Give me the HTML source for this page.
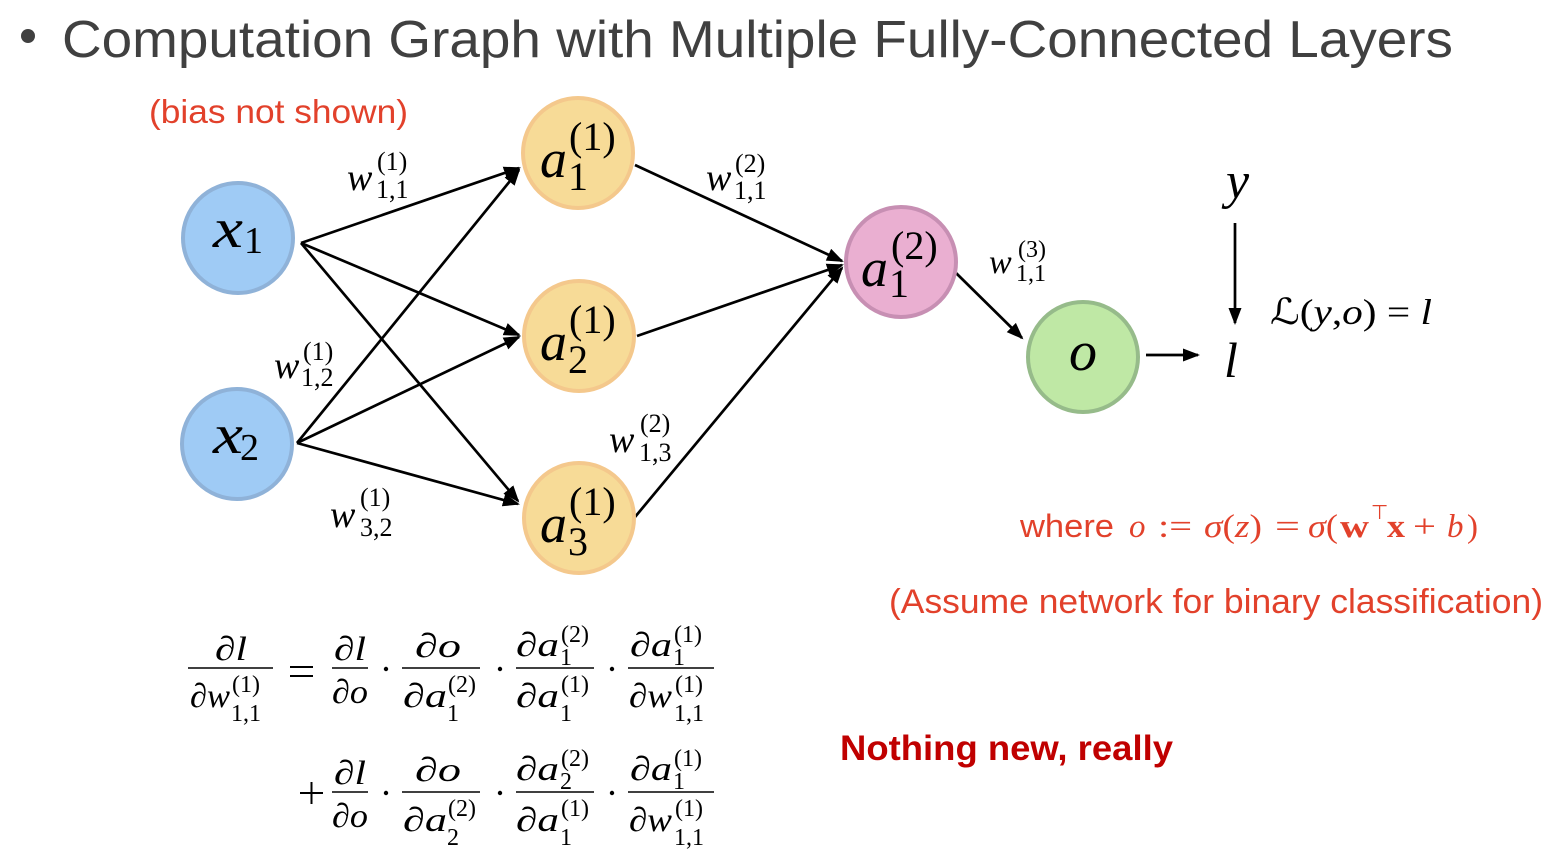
<!DOCTYPE html>
<html>
<head>
<meta charset="utf-8">
<style>
  html,body{margin:0;padding:0;background:#fff;}
  svg{display:block;}
  .m{font-family:"Liberation Serif","DejaVu Serif",serif;font-style:italic;fill:#000;}
  .r{font-family:"Liberation Serif","DejaVu Serif",serif;font-style:normal;fill:#000;}
</style>
</head>
<body>
<svg width="1559" height="861" viewBox="0 0 1559 861" xmlns="http://www.w3.org/2000/svg">
  <defs>
    <marker id="ah" markerUnits="userSpaceOnUse" markerWidth="20" markerHeight="16" refX="15" refY="6.5" orient="auto">
      <path d="M0,0 L17,6.5 L0,13 z" fill="#000"/>
    </marker>
  </defs>
  <rect width="1559" height="861" fill="#fff"/>

  <!-- Title -->
  <circle cx="28" cy="36" r="7" fill="#404040"/>
  <text x="62" y="57" font-family="Liberation Sans, Arial, sans-serif" font-size="52" fill="#404040" textLength="1391" lengthAdjust="spacingAndGlyphs">Computation Graph with Multiple Fully-Connected Layers</text>

  <!-- bias not shown -->
  <text x="149" y="123" font-family="Liberation Sans, Arial, sans-serif" font-size="33" fill="#e2412b" textLength="259" lengthAdjust="spacingAndGlyphs">(bias not shown)</text>

  <!-- Edges -->
  <g stroke="#000" stroke-width="2.7" fill="none" marker-end="url(#ah)">
    <line x1="301" y1="243" x2="519" y2="168"/>
    <line x1="301" y1="243" x2="519" y2="335"/>
    <line x1="301" y1="243" x2="518" y2="501"/>
    <line x1="297" y1="443" x2="519" y2="170"/>
    <line x1="297" y1="443" x2="519" y2="337"/>
    <line x1="297" y1="443" x2="518" y2="504"/>
    <line x1="635" y1="165" x2="842" y2="261"/>
    <line x1="637" y1="336" x2="842" y2="265"/>
    <line x1="635" y1="517" x2="842" y2="268"/>
    <line x1="955" y1="272" x2="1022" y2="338"/>
    <line x1="1146" y1="355" x2="1198" y2="355"/>
    <line x1="1235" y1="223" x2="1235" y2="323"/>
  </g>

  <!-- Nodes -->
  <circle cx="238" cy="238" r="55" fill="#9fcbf5" stroke="#8fb2d8" stroke-width="4"/>
  <circle cx="237" cy="444" r="55" fill="#9fcbf5" stroke="#8fb2d8" stroke-width="4"/>
  <circle cx="578" cy="153" r="55" fill="#f7db97" stroke="#f4c88c" stroke-width="4"/>
  <circle cx="579" cy="336" r="55" fill="#f7db97" stroke="#f4c88c" stroke-width="4"/>
  <circle cx="579" cy="518" r="55" fill="#f7db97" stroke="#f4c88c" stroke-width="4"/>
  <circle cx="901" cy="262" r="55" fill="#eaafd1" stroke="#c78fb3" stroke-width="4"/>
  <circle cx="1083" cy="357" r="55" fill="#bfe8a5" stroke="#96bb8a" stroke-width="4"/>

  <!-- Node labels -->
  <text class="m" x="213" y="247" font-size="56" textLength="30" lengthAdjust="spacingAndGlyphs">x</text>
  <text class="r" x="244" y="253" font-size="38">1</text>
  <text class="m" x="213" y="453" font-size="56" textLength="30" lengthAdjust="spacingAndGlyphs">x</text>
  <text class="r" x="240" y="460" font-size="38">2</text>

  <text class="m" x="540" y="177" font-size="54">a</text>
  <text class="r" x="569" y="150" font-size="40">(1)</text>
  <text class="r" x="568" y="190" font-size="40">1</text>

  <text class="m" x="540" y="360" font-size="54">a</text>
  <text class="r" x="569" y="333" font-size="40">(1)</text>
  <text class="r" x="568" y="373" font-size="40">2</text>

  <text class="m" x="540" y="542" font-size="54">a</text>
  <text class="r" x="569" y="515" font-size="40">(1)</text>
  <text class="r" x="568" y="555" font-size="40">3</text>

  <text class="m" x="861" y="286" font-size="54">a</text>
  <text class="r" x="891" y="259" font-size="40">(2)</text>
  <text class="r" x="889" y="297" font-size="40">1</text>

  <text class="m" x="1083" y="370" font-size="56" text-anchor="middle">o</text>

  <!-- Edge labels -->
  <text class="m" x="347" y="190" font-size="38">w</text>
  <text class="r" x="377" y="170" font-size="26">(1)</text>
  <text class="r" x="376" y="198" font-size="26">1,1</text>

  <text class="m" x="706" y="190" font-size="38">w</text>
  <text class="r" x="735" y="172" font-size="26">(2)</text>
  <text class="r" x="734" y="199" font-size="26">1,1</text>

  <text class="m" x="274" y="378" font-size="38">w</text>
  <text class="r" x="303" y="360" font-size="26">(1)</text>
  <text class="r" x="301" y="386" font-size="26">1,2</text>

  <text class="m" x="330" y="527" font-size="38">w</text>
  <text class="r" x="360" y="506" font-size="26">(1)</text>
  <text class="r" x="360" y="536" font-size="26">3,2</text>

  <text class="m" x="609" y="452" font-size="38">w</text>
  <text class="r" x="640" y="432" font-size="26">(2)</text>
  <text class="r" x="639" y="461" font-size="26">1,3</text>

  <text class="m" x="989" y="273" font-size="34">w</text>
  <text class="r" x="1018" y="257" font-size="24">(3)</text>
  <text class="r" x="1016" y="281" font-size="24">1,1</text>

  <!-- y, l, loss -->
  <text class="m" x="1226" y="198" font-size="52">y</text>
  <text class="m" x="1224" y="377" font-size="50">l</text>
  <text x="1270" y="324" font-size="36" font-family="Liberation Serif, DejaVu Serif, serif" textLength="162" lengthAdjust="spacingAndGlyphs"><tspan font-family="DejaVu Serif, DejaVu Sans, serif" font-style="italic">ℒ</tspan><tspan>(</tspan><tspan font-style="italic">y</tspan><tspan>,</tspan><tspan font-style="italic">o</tspan><tspan>) = </tspan><tspan font-style="italic">l</tspan></text>

  <!-- where line -->
  <g fill="#e2412b">
    <text x="1020" y="537" font-family="Liberation Sans, Arial, sans-serif" font-size="32" textLength="94" lengthAdjust="spacingAndGlyphs">where</text>
    <text x="1129" y="537" font-family="Liberation Serif, serif" font-style="italic" font-size="33">o</text>
    <text x="1158" y="537" font-family="Liberation Serif, serif" font-size="33" textLength="34" lengthAdjust="spacingAndGlyphs">:=</text>
    <text x="1204" y="537" font-family="Liberation Serif, serif" font-size="33" textLength="58" lengthAdjust="spacingAndGlyphs"><tspan font-style="italic">σ</tspan>(<tspan font-style="italic">z</tspan>)</text>
    <text x="1275" y="537" font-family="Liberation Serif, serif" font-size="33" textLength="25" lengthAdjust="spacingAndGlyphs">=</text>
    <text x="1308" y="537" font-family="Liberation Serif, serif" font-size="33" textLength="30" lengthAdjust="spacingAndGlyphs"><tspan font-style="italic">σ</tspan>(</text>
    <text x="1340" y="537" font-family="Liberation Serif, serif" font-weight="bold" font-size="33" textLength="29" lengthAdjust="spacingAndGlyphs">w</text>
    <text x="1371" y="519" font-family="DejaVu Sans, sans-serif" font-size="20">⊤</text>
    <text x="1387" y="537" font-family="Liberation Serif, serif" font-weight="bold" font-size="33" textLength="18" lengthAdjust="spacingAndGlyphs">x</text>
    <text x="1413" y="537" font-family="Liberation Serif, serif" font-size="33" textLength="23" lengthAdjust="spacingAndGlyphs">+</text>
    <text x="1447" y="537" font-family="Liberation Serif, serif" font-style="italic" font-size="33">b</text>
    <text x="1467" y="537" font-family="Liberation Serif, serif" font-size="33">)</text>
  </g>

  <text x="889" y="613" font-family="Liberation Sans, Arial, sans-serif" font-size="34" fill="#e2412b" textLength="654" lengthAdjust="spacingAndGlyphs">(Assume network for binary classification)</text>

  <text x="840" y="760" font-family="Liberation Sans, Arial, sans-serif" font-weight="bold" font-size="35" fill="#c00000" textLength="333" lengthAdjust="spacingAndGlyphs">Nothing new, really</text>

  <!-- Equation fraction bars -->
  <g stroke="#000" stroke-width="1.6">
    <line x1="188" y1="668" x2="273" y2="668"/>
    <line x1="332" y1="668" x2="368" y2="668"/>
    <line x1="402" y1="668" x2="480" y2="668"/>
    <line x1="516" y1="668" x2="594" y2="668"/>
    <line x1="628" y1="668" x2="714" y2="668"/>
    <line x1="332" y1="792" x2="368" y2="792"/>
    <line x1="402" y1="792" x2="480" y2="792"/>
    <line x1="516" y1="792" x2="594" y2="792"/>
    <line x1="628" y1="792" x2="714" y2="792"/>
  </g>
  <g stroke="#000" stroke-width="2">
    <line x1="290" y1="667" x2="313" y2="667"/>
    <line x1="290" y1="676" x2="313" y2="676"/>
    <line x1="300" y1="793" x2="323" y2="793"/>
    <line x1="311.5" y1="782" x2="311.5" y2="804"/>
  </g>
  <g fill="#000">
    <circle cx="386" cy="669" r="2.2"/>
    <circle cx="500" cy="669" r="2.2"/>
    <circle cx="612" cy="669" r="2.2"/>
    <circle cx="386" cy="793" r="2.2"/>
    <circle cx="500" cy="793" r="2.2"/>
    <circle cx="612" cy="793" r="2.2"/>
  </g>

  <!-- F0 -->
  <text class="m" x="215" y="660" font-size="34" textLength="32" lengthAdjust="spacingAndGlyphs">∂l</text>
  <text class="m" x="190" y="707" font-size="34" textLength="40" lengthAdjust="spacingAndGlyphs">∂w</text>
  <text class="r" x="232" y="692" font-size="24">(1)</text>
  <text class="r" x="231" y="721" font-size="24">1,1</text>

  <!-- Row 1 F1 -->
  <text class="m" x="334" y="660" font-size="34" textLength="32" lengthAdjust="spacingAndGlyphs">∂l</text>
  <text class="m" x="332" y="703" font-size="34" textLength="36" lengthAdjust="spacingAndGlyphs">∂o</text>
  <!-- Row 1 F2 -->
  <text class="m" x="415" y="657" font-size="34" textLength="46" lengthAdjust="spacingAndGlyphs">∂o</text>
  <text class="m" x="403" y="707" font-size="34" textLength="44" lengthAdjust="spacingAndGlyphs">∂a</text>
  <text class="r" x="448" y="692" font-size="24">(2)</text>
  <text class="r" x="447" y="721" font-size="24">1</text>
  <!-- Row 1 F3 -->
  <text class="m" x="516" y="656" font-size="34" textLength="43" lengthAdjust="spacingAndGlyphs">∂a</text>
  <text class="r" x="561" y="642" font-size="24">(2)</text>
  <text class="r" x="560" y="665" font-size="24">1</text>
  <text class="m" x="516" y="707" font-size="34" textLength="43" lengthAdjust="spacingAndGlyphs">∂a</text>
  <text class="r" x="561" y="692" font-size="24">(1)</text>
  <text class="r" x="560" y="721" font-size="24">1</text>
  <!-- Row 1 F4 -->
  <text class="m" x="630" y="656" font-size="34" textLength="42" lengthAdjust="spacingAndGlyphs">∂a</text>
  <text class="r" x="674" y="642" font-size="24">(1)</text>
  <text class="r" x="673" y="665" font-size="24">1</text>
  <text class="m" x="629" y="707" font-size="34" textLength="43" lengthAdjust="spacingAndGlyphs">∂w</text>
  <text class="r" x="675" y="692" font-size="24">(1)</text>
  <text class="r" x="674" y="721" font-size="24">1,1</text>

  <!-- Row 2 F1 -->
  <text class="m" x="334" y="784" font-size="34" textLength="32" lengthAdjust="spacingAndGlyphs">∂l</text>
  <text class="m" x="332" y="827" font-size="34" textLength="36" lengthAdjust="spacingAndGlyphs">∂o</text>
  <!-- Row 2 F2 -->
  <text class="m" x="415" y="781" font-size="34" textLength="46" lengthAdjust="spacingAndGlyphs">∂o</text>
  <text class="m" x="403" y="831" font-size="34" textLength="44" lengthAdjust="spacingAndGlyphs">∂a</text>
  <text class="r" x="448" y="816" font-size="24">(2)</text>
  <text class="r" x="447" y="845" font-size="24">2</text>
  <!-- Row 2 F3 -->
  <text class="m" x="516" y="780" font-size="34" textLength="43" lengthAdjust="spacingAndGlyphs">∂a</text>
  <text class="r" x="561" y="766" font-size="24">(2)</text>
  <text class="r" x="560" y="789" font-size="24">2</text>
  <text class="m" x="516" y="831" font-size="34" textLength="43" lengthAdjust="spacingAndGlyphs">∂a</text>
  <text class="r" x="561" y="816" font-size="24">(1)</text>
  <text class="r" x="560" y="845" font-size="24">1</text>
  <!-- Row 2 F4 -->
  <text class="m" x="630" y="780" font-size="34" textLength="42" lengthAdjust="spacingAndGlyphs">∂a</text>
  <text class="r" x="674" y="766" font-size="24">(1)</text>
  <text class="r" x="673" y="789" font-size="24">1</text>
  <text class="m" x="629" y="831" font-size="34" textLength="43" lengthAdjust="spacingAndGlyphs">∂w</text>
  <text class="r" x="675" y="816" font-size="24">(1)</text>
  <text class="r" x="674" y="845" font-size="24">1,1</text>
</svg>
</body>
</html>
